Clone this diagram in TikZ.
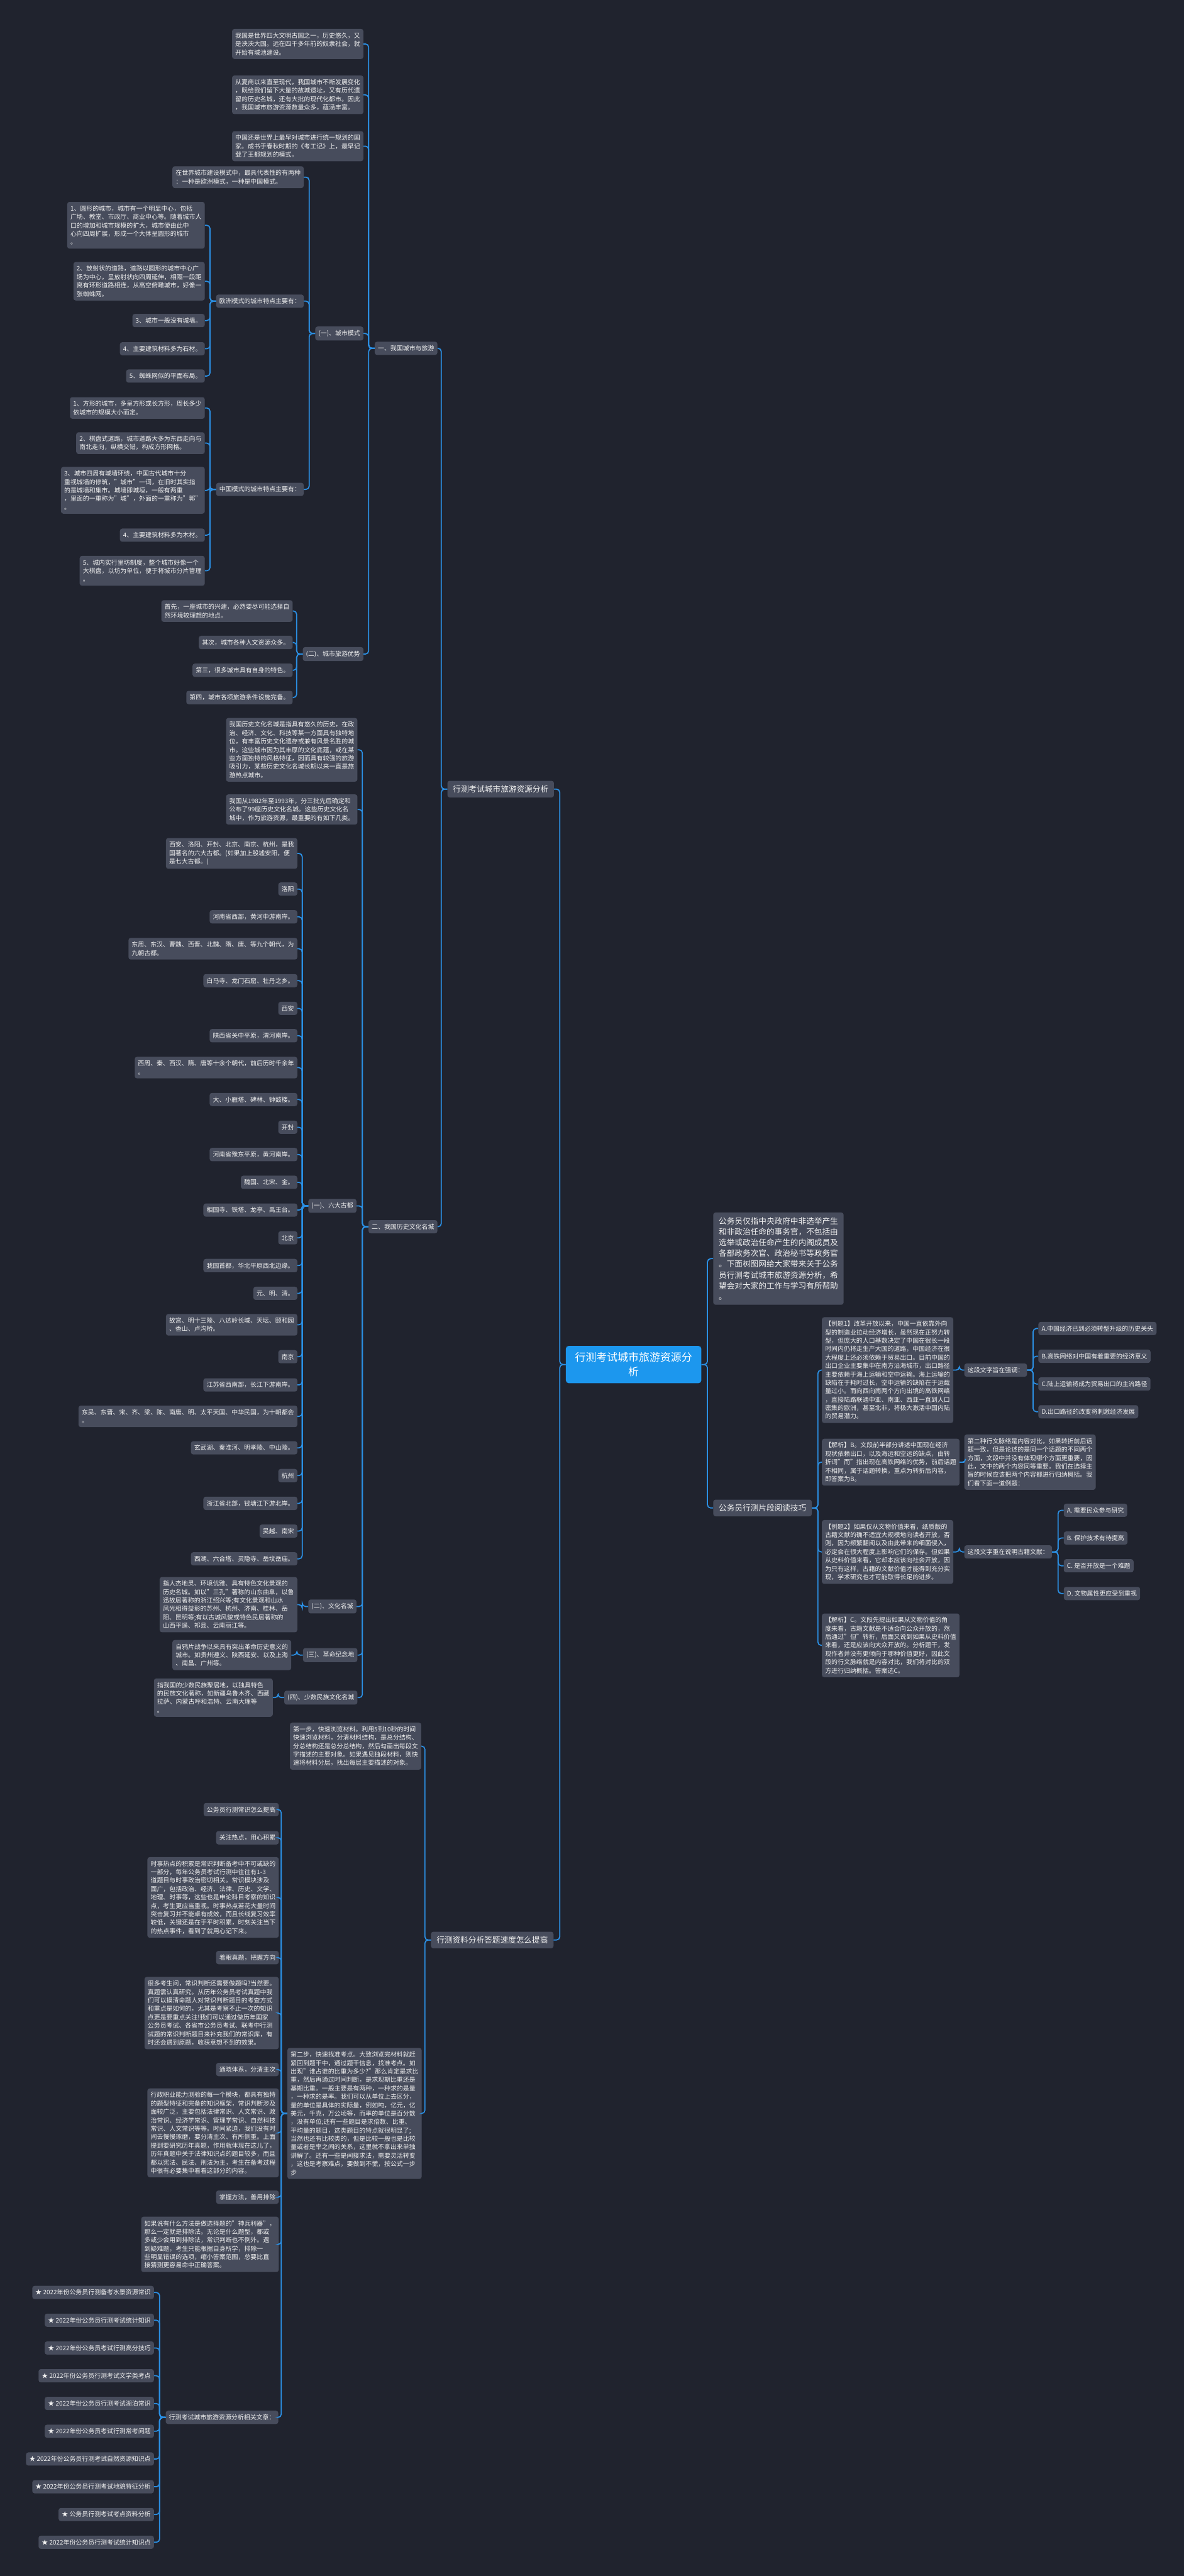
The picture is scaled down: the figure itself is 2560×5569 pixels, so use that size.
\documentclass[tikz,border=0pt]{standalone}
\usepackage{fontspec}
\setmainfont{Noto Sans CJK SC}
\definecolor{bgc}{HTML}{20232E}
\definecolor{boxc}{HTML}{474C5C}
\definecolor{linec}{HTML}{2B8FE3}
\definecolor{rootc}{HTML}{1C97EE}
\definecolor{txtc}{HTML}{F0F0F0}
\tikzset{
  txt/.style={fill=boxc, text=txtc, rounded corners=5pt, align=left,
    inner xsep=7pt, inner ysep=8pt, font=\fontsize{13.5}{18.2}\selectfont},
  big/.style={txt, inner xsep=12pt, inner ysep=10pt, font=\fontsize{17.2}{23.4}\selectfont},
  root/.style={fill=rootc, text=white, rounded corners=6pt, align=center,
    inner xsep=20pt, inner ysep=14pt, font=\fontsize{23}{31}\selectfont},
  lk/.style={draw=linec, line width=2.4pt, rounded corners=7pt},
  toleft/.style={to path={-- ++(-13,0) |- (\tikztotarget)}},
  toright/.style={to path={-- ++(13,0) |- (\tikztotarget)}},
}
\begin{document}
\begin{tikzpicture}[x=1pt, y=-1pt]
  \fill[bgc] (0,0) rectangle (2560,5569);
  \useasboundingbox (0,0) rectangle (2560,5569);

  % centre
  \node[root] (rt) at (1370,2950) {行测考试城市旅游资源分\\析};

  % right side
  \node[big, anchor=west] (intro) at (1542,2721) {公务员仅指中央政府中非选举产生\\和非政治任命的事务官，不包括由\\选举或政治任命产生的内阁成员及\\各部政务次官、政治秘书等政务官\\。下面树图网给大家带来关于公务\\员行测考试城市旅游资源分析，希\\望会对大家的工作与学习有所帮助\\。};
  \node[big, anchor=west] (jq) at (1542,3260) {公务员行测片段阅读技巧};
  \node[txt, anchor=west] (lt1) at (1777,2962) {【例题1】改革开放以来，中国一直依靠外向\\型的制造业拉动经济增长，虽然现在正努力转\\型，但庞大的人口基数决定了中国在很长一段\\时间内仍将走生产大国的道路，中国经济在很\\大程度上还必须依赖于贸易出口。目前中国的\\出口企业主要集中在南方沿海城市，出口路径\\主要依赖于海上运输和空中运输。海上运输的\\缺陷在于耗时过长，空中运输的缺陷在于运载\\量过小。而向西向南两个方向出境的高铁网络\\，直接陆路联通中亚、南亚、西亚一直到人口\\密集的欧洲，甚至北非，将极大激活中国内陆\\的贸易潜力。};
  \node[txt, anchor=west] (jx1) at (1777,3161) {【解析】B。文段前半部分讲述中国现在经济\\现状依赖出口，以及海运和空运的缺点，由转\\折词"而"指出现在高铁网络的优势，前后话题\\不相同，属于话题转换，重点为转折后内容，\\即答案为B。};
  \node[txt, anchor=west] (lt2) at (1777,3355) {【例题2】如果仅从文物价值来看，纸质版的\\古籍文献的确不适宜大规模地向读者开放，否\\则，因为频繁翻阅以及由此带来的细菌侵入，\\必定会在很大程度上影响它们的保存。但如果\\从史料价值来看，它却本应该向社会开放，因\\为只有这样，古籍的文献价值才能得到充分实\\现，学术研究也才可能取得长足的进步。};
  \node[txt, anchor=west] (jx2) at (1777,3557) {【解析】C。文段先提出如果从文物价值的角\\度来看，古籍文献是不适合向公众开放的，然\\后通过"但"转折，后面又说到如果从史料价值\\来看，还是应该向大众开放的。分析题干，发\\现作者并没有更倾向于哪种价值更好，因此文\\段的行文脉络就是内容对比，我们将对比的双\\方进行归纳概括。答案选C。};
  \node[txt, anchor=west] (zd1) at (2085,2962) {这段文字旨在强调：};
  \node[txt, anchor=west] (opa1) at (2245,2872) {A.中国经济已到必须转型升级的历史关头};
  \node[txt, anchor=west] (opb1) at (2245,2932) {B.高铁网络对中国有着重要的经济意义};
  \node[txt, anchor=west] (opc1) at (2245,2992) {C.陆上运输将成为贸易出口的主流路径};
  \node[txt, anchor=west] (opd1) at (2245,3052) {D.出口路径的改变将刺激经济发展};
  \node[txt, anchor=west] (dr) at (2085,3161) {第二种行文脉络是内容对比，如果转折前后话\\题一致，但是论述的是同一个话题的不同两个\\方面，文段中并没有体现哪个方面更重要，因\\此，文中的两个内容同等重要。我们在选择主\\旨的时候应该把两个内容都进行归纳概括。我\\们看下面一道例题：};
  \node[txt, anchor=west] (zd2) at (2085,3355) {这段文字重在说明古籍文献：};
  \node[txt, anchor=west] (opa2) at (2300,3265) {A. 需要民众参与研究};
  \node[txt, anchor=west] (opb2) at (2300,3325) {B. 保护技术有待提高};
  \node[txt, anchor=west] (opc2) at (2300,3385) {C. 是否开放是一个难题};
  \node[txt, anchor=west] (opd2) at (2300,3445) {D. 文物属性更应受到重视};

  % left side, part one
  \node[big, anchor=east] (l1) at (1198,1706) {行测考试城市旅游资源分析};
  \node[txt, anchor=east] (yi) at (946,753) {一、我国城市与旅游};
  \node[txt, anchor=east] (t1) at (786,95) {我国是世界四大文明古国之一，历史悠久，又\\是泱泱大国。远在四千多年前的奴隶社会，就\\开始有城池建设。};
  \node[txt, anchor=east] (t2) at (786,205) {从夏商以来直至现代，我国城市不断发展变化\\，既给我们留下大量的故城遗址，又有历代遗\\留的历史名城，还有大批的现代化都市。因此\\，我国城市旅游资源数量众多，蕴涵丰富。};
  \node[txt, anchor=east] (t3) at (786,316) {中国还是世界上最早对城市进行统一规划的国\\家。成书于春秋时期的《考工记》上，最早记\\载了王都规划的模式。};
  \node[txt, anchor=east] (cm) at (786,721) {(一)、城市模式};
  \node[txt, anchor=east] (sj) at (657,383) {在世界城市建设模式中，最具代表性的有两种\\：一种是欧洲模式，一种是中国模式。};
  \node[txt, anchor=east] (oz) at (657,651) {欧洲模式的城市特点主要有：};
  \node[txt, anchor=east] (eu1) at (443,487) {1、圆形的城市，城市有一个明显中心，包括\\广场、教堂、市政厅、商业中心等。随着城市人\\口的增加和城市规模的扩大，城市便由此中\\心向四周扩展，形成一个大体呈圆形的城市\\。};
  \node[txt, anchor=east] (eu2) at (443,608) {2、放射状的道路，道路以圆形的城市中心广\\场为中心，呈放射状向四周延伸，相隔一段距\\离有环形道路相连，从高空俯瞰城市，好像一\\张蜘蛛网。};
  \node[txt, anchor=east] (eu3) at (443,693) {3、城市一般没有城墙。};
  \node[txt, anchor=east] (eu4) at (443,754) {4、主要建筑材料多为石材。};
  \node[txt, anchor=east] (eu5) at (443,813) {5、蜘蛛网似的平面布局。};
  \node[txt, anchor=east] (zg) at (657,1058) {中国模式的城市特点主要有：};
  \node[txt, anchor=east] (cn1) at (443,882) {1、方形的城市，多呈方形或长方形，周长多少\\依城市的规模大小而定。};
  \node[txt, anchor=east] (cn2) at (443,958) {2、棋盘式道路，城市道路大多为东西走向与\\南北走向，纵横交错，构成方形网格。};
  \node[txt, anchor=east] (cn3) at (443,1060) {3、城市四周有城墙环绕，中国古代城市十分\\重视城墙的修筑，"城市"一词，在旧时其实指\\的是城墙和集市。城墙即城垣，一般有两重\\，里面的一重称为"城"，外面的一重称为"郭"\\。};
  \node[txt, anchor=east] (cn4) at (443,1157) {4、主要建筑材料多为木材。};
  \node[txt, anchor=east] (cn5) at (443,1234) {5、城内实行里坊制度，整个城市好像一个\\大棋盘，以坊为单位，便于将城市分片管理\\。};
  \node[txt, anchor=east] (ly) at (786,1414) {(二)、城市旅游优势};
  \node[txt, anchor=east] (ly1) at (633,1321) {首先，一座城市的兴建，必然要尽可能选择自\\然环境较理想的地点。};
  \node[txt, anchor=east] (ly2) at (633,1389) {其次，城市各种人文资源众多。};
  \node[txt, anchor=east] (ly3) at (633,1449) {第三，很多城市具有自身的特色。};
  \node[txt, anchor=east] (ly4) at (633,1508) {第四，城市各项旅游条件设施完备。};

  % left side, historic cities
  \node[txt, anchor=east] (er) at (946,2652) {二、我国历史文化名城};
  \node[txt, anchor=east] (ls1) at (773,1621) {我国历史文化名城是指具有悠久的历史，在政\\治、经济、文化、科技等某一方面具有独特地\\位，有丰富历史文化遗存或兼有风景名胜的城\\市。这些城市因为其丰厚的文化底蕴，或在某\\些方面独特的风格特征，因而具有较强的旅游\\吸引力，某些历史文化名城长期以来一直是旅\\游热点城市。};
  \node[txt, anchor=east] (ls2) at (773,1750) {我国从1982年至1993年，分三批先后确定和\\公布了99座历史文化名城。这些历史文化名\\城中，作为旅游资源，最重要的有如下几类。};
  \node[txt, anchor=east] (ld) at (771,2607) {(一)、六大古都};
  \node[txt, anchor=east] (ld1) at (643,1845) {西安、洛阳、开封、北京、南京、杭州，是我\\国著名的六大古都。(如果加上殷墟安阳，便\\是七大古都。)};
  \node[txt, anchor=east] (ld2) at (643,1922) {洛阳};
  \node[txt, anchor=east] (ld3) at (643,1982) {河南省西部，黄河中游南岸。};
  \node[txt, anchor=east] (ld4) at (643,2051) {东周、东汉、曹魏、西晋、北魏、隋、唐、等九个朝代，为\\九朝古都。};
  \node[txt, anchor=east] (ld5) at (643,2120) {白马寺、龙门石窟、牡丹之乡。};
  \node[txt, anchor=east] (ld6) at (643,2180) {西安};
  \node[txt, anchor=east] (ld7) at (643,2239) {陕西省关中平原，渭河南岸。};
  \node[txt, anchor=east] (ld8) at (643,2308) {西周、秦、西汉、隋、唐等十余个朝代，前后历时千余年\\。};
  \node[txt, anchor=east] (ld9) at (643,2377) {大、小雁塔、碑林、钟鼓楼。};
  \node[txt, anchor=east] (ld10) at (643,2437) {开封};
  \node[txt, anchor=east] (ld11) at (643,2496) {河南省豫东平原，黄河南岸。};
  \node[txt, anchor=east] (ld12) at (643,2556) {魏国、北宋、金。};
  \node[txt, anchor=east] (ld13) at (643,2616) {相国寺、铁塔、龙亭、禹王台。};
  \node[txt, anchor=east] (ld14) at (643,2676) {北京};
  \node[txt, anchor=east] (ld15) at (643,2736) {我国首都，华北平原西北边缘。};
  \node[txt, anchor=east] (ld16) at (643,2796) {元、明、清。};
  \node[txt, anchor=east] (ld17) at (643,2864) {故宫、明十三陵、八达岭长城、天坛、颐和园\\、香山、卢沟桥。};
  \node[txt, anchor=east] (ld18) at (643,2933) {南京};
  \node[txt, anchor=east] (ld19) at (643,2994) {江苏省西南部，长江下游南岸。};
  \node[txt, anchor=east] (ld20) at (643,3062) {东吴、东晋、宋、齐、梁、陈、南唐、明、太平天国、中华民国，为十朝都会\\。};
  \node[txt, anchor=east] (ld21) at (643,3130) {玄武湖、秦淮河、明孝陵、中山陵。};
  \node[txt, anchor=east] (ld22) at (643,3190) {杭州};
  \node[txt, anchor=east] (ld23) at (643,3250) {浙江省北部，钱塘江下游北岸。};
  \node[txt, anchor=east] (ld24) at (643,3310) {吴越、南宋};
  \node[txt, anchor=east] (ld25) at (643,3370) {西湖、六合塔、灵隐寺、岳坟岳庙。};
  \node[txt, anchor=east] (wh) at (771,3473) {(二)、文化名城};
  \node[txt, anchor=east] (wh1) at (643,3469) {指人杰地灵、环境优雅、具有特色文化景观的\\历史名城。如以"三孔"著称的山东曲阜，以鲁\\迅故居著称的浙江绍兴等;有文化景观和山水\\风光相得益彰的苏州、杭州、济南、桂林、岳\\阳、昆明等;有以古城风貌或特色民居著称的\\山西平遥、祁县、云南丽江等。};
  \node[txt, anchor=east] (gm) at (773,3578) {(三)、革命纪念地};
  \node[txt, anchor=east] (gm1) at (630,3578) {自鸦片战争以来具有突出革命历史意义的\\城市。如贵州遵义、陕西延安、以及上海\\、南昌、广州等。};
  \node[txt, anchor=east] (ss) at (773,3670) {(四)、少数民族文化名城};
  \node[txt, anchor=east] (ss1) at (590,3670) {指我国的少数民族聚居地，以独具特色\\的民族文化著称，如新疆乌鲁木齐、西藏\\拉萨、内蒙古呼和浩特、云南大理等\\。};

  % left side, part two
  \node[big, anchor=east] (l2) at (1197,4194) {行测资料分析答题速度怎么提高};
  \node[txt, anchor=east] (s1) at (911,3775) {第一步，快速浏览材料。利用5到10秒的时间\\快速浏览材料，分清材料结构，是总分结构、\\分总结构还是总分总结构，然后勾画出每段文\\字描述的主要对象。如果遇见独段材料，则快\\速将材料分层，找出每层主要描述的对象。};
  \node[txt, anchor=east] (s2) at (912,4569) {第二步，快速找准考点。大致浏览完材料就赶\\紧回到题干中，通过题干信息，找准考点。如\\出现"谁占谁的比重为多少?"那么肯定是求比\\重，然后再通过时间判断，是求现期比重还是\\基期比重。一般主要是有两种，一种求的是量\\，一种求的是率。我们可以从单位上去区分，\\量的单位是具体的实际量，例如吨，亿元，亿\\美元，千克，万公顷等，而率的单位是百分数\\，没有单位;还有一些题目是求倍数、比重、\\平均量的题目，这类题目的特点就很明显了;\\当然也还有比较类的，但是比较一般也是比较\\量或者是率之间的关系，这里就不拿出来单独\\讲解了。还有一些是间接求法，需要灵活转变\\，这也是考察难点，要做到不慌，按公式一步\\步};
  \node[txt, anchor=east] (k0) at (603,3912) {公务员行测常识怎么提高};
  \node[txt, anchor=east] (k1) at (603,3973) {关注热点，用心积累};
  \node[txt, anchor=east] (k2) at (603,4102) {时事热点的积累是常识判断备考中不可或缺的\\一部分，每年公务员考试行测中往往有1-3\\道题目与时事政治密切相关。常识模块涉及\\面广，包括政治、经济、法律、历史、文学、\\地理、时事等，这些也是申论科目考察的知识\\点，考生更应当重视。时事热点若花大量时间\\突击复习并不能卓有成效，而且长线复习效率\\较低，关键还是在于平时积累，时刻关注当下\\的热点事件，看到了就用心记下来。};
  \node[txt, anchor=east] (k3) at (603,4232) {着眼真题，把握方向};
  \node[txt, anchor=east] (k4) at (603,4352) {很多考生问，常识判断还需要做题吗?当然要。\\真题需认真研究。从历年公务员考试真题中我\\们可以摸清命题人对常识判断题目的考查方式\\和重点是如何的，尤其是考察不止一次的知识\\点更是要重点关注!我们可以通过做历年国家\\公务员考试、各省市公务员考试、联考中行测\\试题的常识判断题目来补充我们的常识库，有\\时还会遇到原题，收获意想不到的效果。};
  \node[txt, anchor=east] (k5) at (603,4474) {通晓体系，分清主次};
  \node[txt, anchor=east] (k6) at (603,4611) {行政职业能力测验的每一个模块，都具有独特\\的题型特征和完备的知识框架，常识判断涉及\\面较广泛，主要包括法律常识、人文常识、政\\治常识、经济学常识、管理学常识、自然科技\\常识、人文常识等等。时间紧迫，我们没有时\\间去慢慢琢磨，要分清主次、有所侧重。上面\\提到要研究历年真题，作用就体现在这儿了，\\历年真题中关于法律知识点的题目较多，而且\\都以宪法、民法、刑法为主，考生在备考过程\\中很有必要集中看看这部分的内容。};
  \node[txt, anchor=east] (k7) at (603,4750) {掌握方法，善用排除};
  \node[txt, anchor=east] (k8) at (603,4852) {如果说有什么方法是做选择题的"神兵利器"，\\那么一定就是排除法。无论是什么题型，都或\\多或少会用到排除法，常识判断也不例外。遇\\到疑难题，考生只能根据自身所学，排除一\\些明显错误的选项，缩小答案范围，总要比直\\接猜测更容易命中正确答案。};
  \node[txt, anchor=east] (l3) at (602,5226) {行测考试城市旅游资源分析相关文章：};
  \node[txt, anchor=east] (r1) at (333,4956) {★ 2022年份公务员行测备考水景资源常识};
  \node[txt, anchor=east] (r2) at (333,5016) {★ 2022年份公务员行测考试统计知识};
  \node[txt, anchor=east] (r3) at (333,5076) {★ 2022年份公务员考试行测高分技巧};
  \node[txt, anchor=east] (r4) at (333,5136) {★ 2022年份公务员行测考试文学类考点};
  \node[txt, anchor=east] (r5) at (333,5196) {★ 2022年份公务员行测考试湖泊常识};
  \node[txt, anchor=east] (r6) at (333,5256) {★ 2022年份公务员考试行测常考问题};
  \node[txt, anchor=east] (r7) at (333,5316) {★ 2022年份公务员行测考试自然资源知识点};
  \node[txt, anchor=east] (r8) at (333,5376) {★ 2022年份公务员行测考试地貌特征分析};
  \node[txt, anchor=east] (r9) at (333,5436) {★ 公务员行测考试考点资料分析};
  \node[txt, anchor=east] (r10) at (333,5496) {★ 2022年份公务员行测考试统计知识点};

  % connectors
  \draw[lk] (rt.east) edge[toright] (intro.west) edge[toright] (jq.west);
  \draw[lk] (jq.east) edge[toright] (lt1.west) edge[toright] (jx1.west) edge[toright] (lt2.west) edge[toright] (jx2.west);
  \draw[lk] (lt1.east) edge[toright] (zd1.west);
  \draw[lk] (zd1.east) edge[toright] (opa1.west) edge[toright] (opb1.west) edge[toright] (opc1.west) edge[toright] (opd1.west);
  \draw[lk] (jx1.east) edge[toright] (dr.west);
  \draw[lk] (lt2.east) edge[toright] (zd2.west);
  \draw[lk] (zd2.east) edge[toright] (opa2.west) edge[toright] (opb2.west) edge[toright] (opc2.west) edge[toright] (opd2.west);
  \draw[lk] (rt.west) edge[toleft] (l1.east) edge[toleft] (l2.east);
  \draw[lk] (l1.west) edge[toleft] (yi.east) edge[toleft] (er.east);
  \draw[lk] (yi.west) edge[toleft] (t1.east) edge[toleft] (t2.east) edge[toleft] (t3.east) edge[toleft] (cm.east) edge[toleft] (ly.east);
  \draw[lk] (cm.west) edge[toleft] (sj.east) edge[toleft] (oz.east) edge[toleft] (zg.east);
  \draw[lk] (oz.west) edge[toleft] (eu1.east) edge[toleft] (eu2.east) edge[toleft] (eu3.east) edge[toleft] (eu4.east) edge[toleft] (eu5.east);
  \draw[lk] (zg.west) edge[toleft] (cn1.east) edge[toleft] (cn2.east) edge[toleft] (cn3.east) edge[toleft] (cn4.east) edge[toleft] (cn5.east);
  \draw[lk] (ly.west) edge[toleft] (ly1.east) edge[toleft] (ly2.east) edge[toleft] (ly3.east) edge[toleft] (ly4.east);
  \draw[lk] (er.west) edge[toleft] (ls1.east) edge[toleft] (ls2.east) edge[toleft] (ld.east) edge[toleft] (wh.east) edge[toleft] (gm.east) edge[toleft] (ss.east);
  \draw[lk] (ld.west) edge[toleft] (ld1.east) edge[toleft] (ld2.east) edge[toleft] (ld3.east) edge[toleft] (ld4.east) edge[toleft] (ld5.east)
    edge[toleft] (ld6.east) edge[toleft] (ld7.east) edge[toleft] (ld8.east) edge[toleft] (ld9.east) edge[toleft] (ld10.east)
    edge[toleft] (ld11.east) edge[toleft] (ld12.east) edge[toleft] (ld13.east) edge[toleft] (ld14.east) edge[toleft] (ld15.east)
    edge[toleft] (ld16.east) edge[toleft] (ld17.east) edge[toleft] (ld18.east) edge[toleft] (ld19.east) edge[toleft] (ld20.east)
    edge[toleft] (ld21.east) edge[toleft] (ld22.east) edge[toleft] (ld23.east) edge[toleft] (ld24.east) edge[toleft] (ld25.east);
  \draw[lk] (wh.west) edge[toleft] (wh1.east);
  \draw[lk] (gm.west) edge[toleft] (gm1.east);
  \draw[lk] (ss.west) edge[toleft] (ss1.east);
  \draw[lk] (l2.west) edge[toleft] (s1.east) edge[toleft] (s2.east);
  \draw[lk] (s2.west) edge[toleft] (k0.east) edge[toleft] (k1.east) edge[toleft] (k2.east) edge[toleft] (k3.east) edge[toleft] (k4.east)
    edge[toleft] (k5.east) edge[toleft] (k6.east) edge[toleft] (k7.east) edge[toleft] (k8.east) edge[toleft] (l3.east);
  \draw[lk] (l3.west) edge[toleft] (r1.east) edge[toleft] (r2.east) edge[toleft] (r3.east) edge[toleft] (r4.east) edge[toleft] (r5.east)
    edge[toleft] (r6.east) edge[toleft] (r7.east) edge[toleft] (r8.east) edge[toleft] (r9.east) edge[toleft] (r10.east);
\end{tikzpicture}
\end{document}
